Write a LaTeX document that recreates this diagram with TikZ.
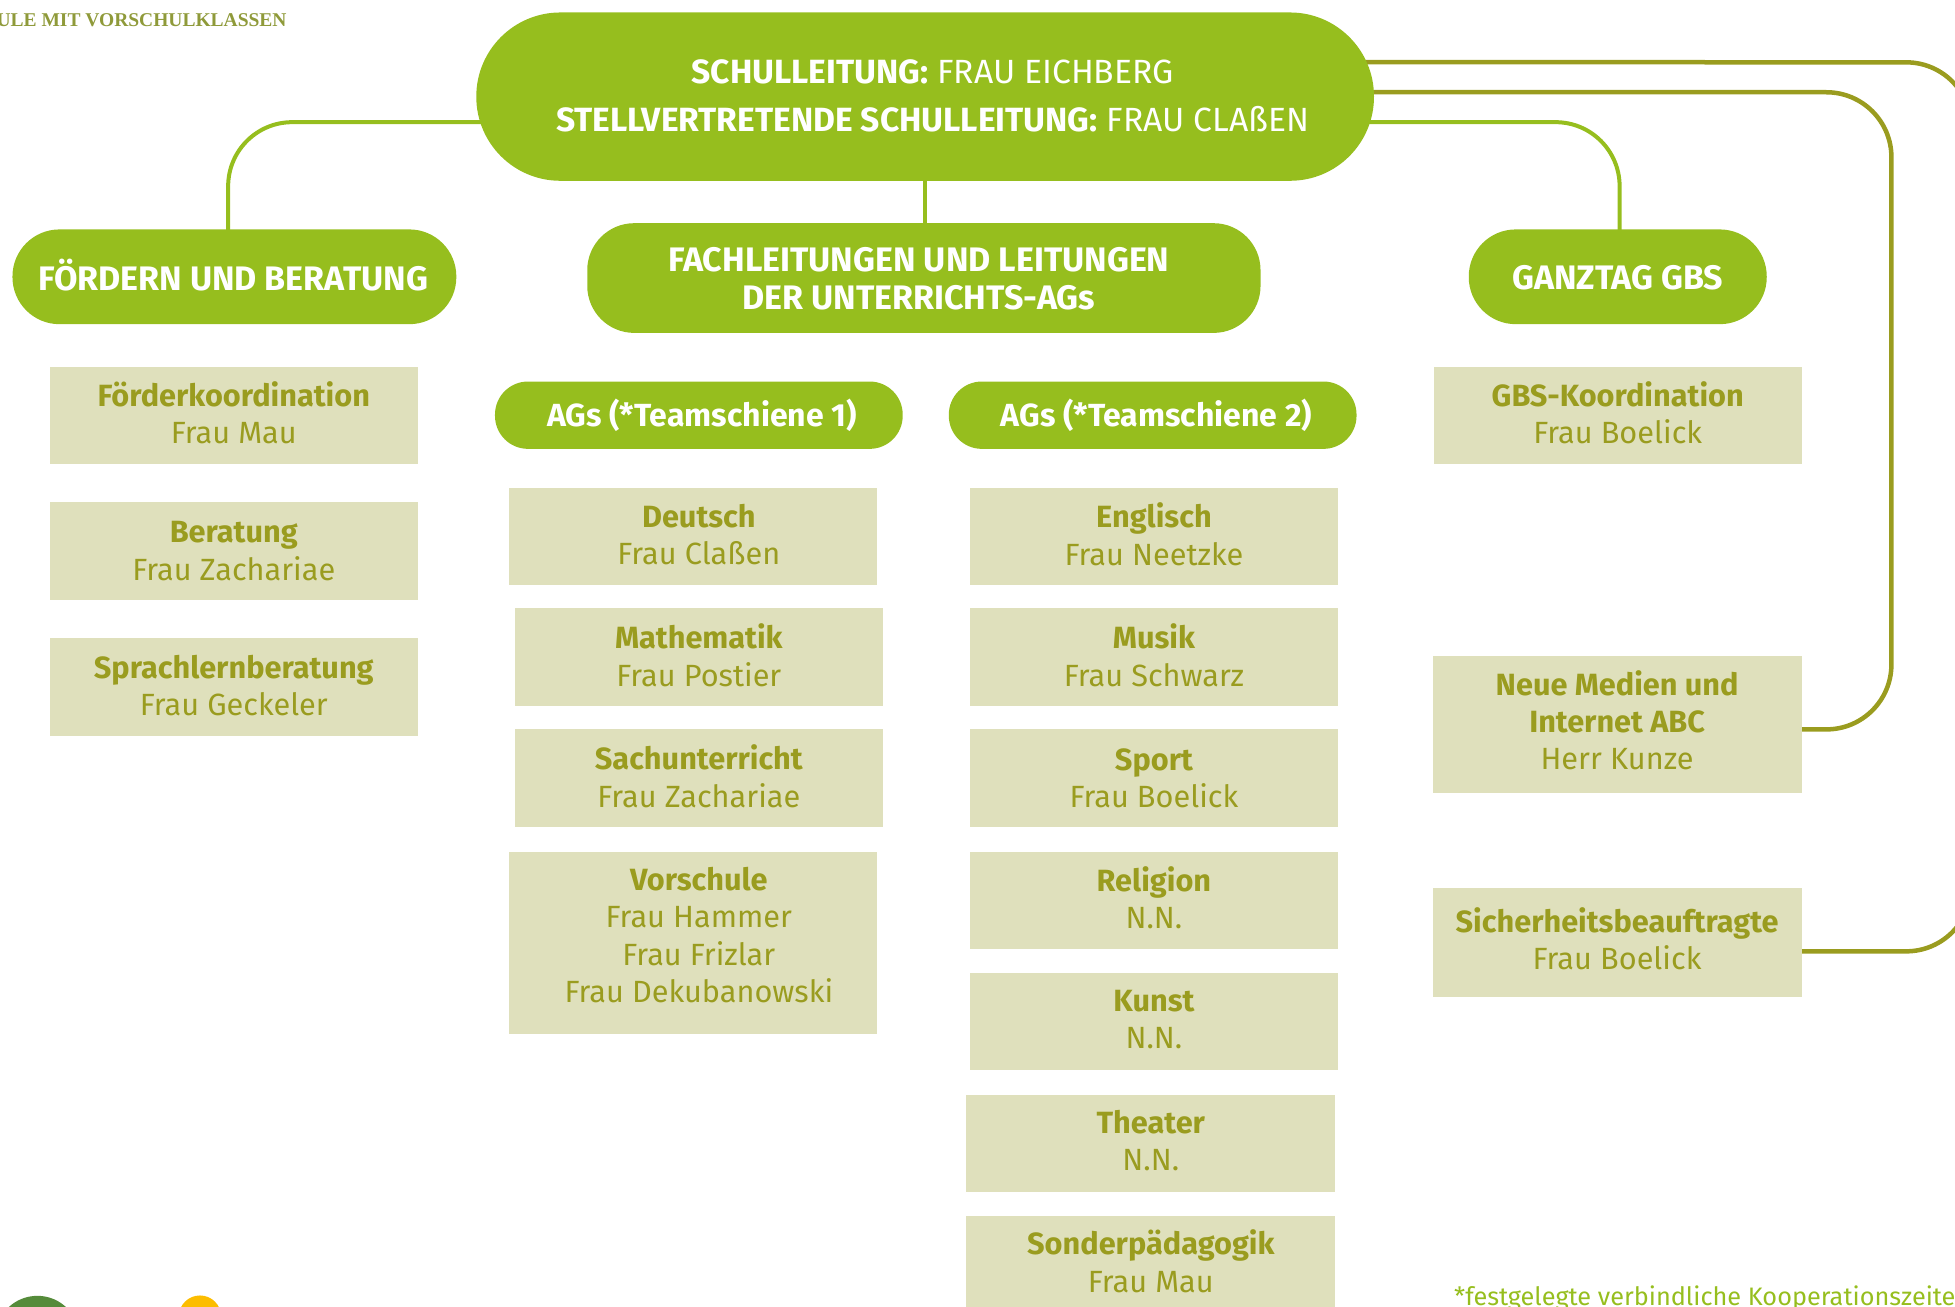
\documentclass[tikz,border=0pt]{standalone}
\usepackage{fontspec}
\setmainfont{Fira Sans}
\newfontfamily\logofont{Liberation Serif}
\usetikzlibrary{backgrounds}
\definecolor{gr}{HTML}{96BE1E}
\definecolor{ol}{HTML}{9A9C1F}
\definecolor{bx}{HTML}{DFE0BC}
\definecolor{logoc}{HTML}{8F9A3A}
\definecolor{dkg}{HTML}{558B3A}
\definecolor{yel}{HTML}{FCBD00}
\newcommand\placebox[9]{%
 \pgfmathsetmacro\bcx{(#3+#5)/2}\pgfmathsetmacro\bcy{(#4+#6)/2}%
 \pgfmathsetmacro\bw{(#5-#3)*1.2468}\pgfmathsetmacro\bh{(#6-#4)*1.2468}%
 \node[#1,minimum width=\bw pt,minimum height=\bh pt] (#2) at (\bcx,\bcy) {};
 \node[#1,fill=none] (#2t) at ([shift={(#7,#8)}]#2.center) {#9};}
\newcommand\tb[2]{{\bfseries #1}\\#2}
\tikzset{
 x=1.2468pt,y=-1.2468pt,
 pillbase/.style={fill=gr,text=white,rounded corners=47pt,align=center,inner sep=0pt,font=\fontsize{34}{37.5}\selectfont\bfseries},
 mainpill/.style={pillbase,rounded corners=84pt,font=\fontsize{33.6}{48}\selectfont},
 smallpill/.style={pillbase,rounded corners=33pt,font=\fontsize{32}{37.5}\selectfont\bfseries},
 infobox/.style={fill=bx,text=ol,align=center,inner sep=0pt,font=\fontsize{30.7}{37.2}\selectfont},
 greenlink/.style={draw=gr,line width=4pt,rounded corners=64pt},
 olivelink/.style={draw=ol,line width=4.5pt,rounded corners=65pt},
}
\begin{document}
\begin{tikzpicture}
\useasboundingbox (0,0) rectangle (1568,1048.25);
\clip (0,0) rectangle (1568,1048.25);
\placebox{mainpill}{main}{382}{10}{1102}{145}{6}{-1}{\textbf{SCHULLEITUNG:} FRAU EICHBERG\\\textbf{STELLVERTRETENDE SCHULLEITUNG:} FRAU CLAßEN}
\placebox{pillbase}{foerder}{10}{184}{366}{260}{-1}{-1}{FÖRDERN UND BERATUNG}
\placebox{pillbase}{fach}{471}{179}{1011}{267}{-4}{0.5}{FACHLEITUNGEN UND LEITUNGEN\\DER UNTERRICHTS-AGs}
\placebox{pillbase}{ganztag}{1178}{184}{1417}{260}{0}{1}{GANZTAG GBS}
\placebox{smallpill}{agone}{397}{306}{724}{360}{2.5}{0}{AGs (*Teamschiene 1)}
\placebox{smallpill}{agtwo}{761}{306}{1088}{360}{3}{0}{AGs (*Teamschiene 2)}
\placebox{infobox}{fk}{40}{294}{335}{372}{0}{-2}{\tb{Förderkoordination}{Frau Mau}}
\placebox{infobox}{ber}{40}{403}{335}{481}{0}{0}{\tb{Beratung}{Frau Zachariae}}
\placebox{infobox}{spr}{40}{512}{335}{590}{0}{-1}{\tb{Sprachlernberatung}{Frau Geckeler}}
\placebox{infobox}{deu}{408}{391}{703}{469}{5}{-1}{\tb{Deutsch}{Frau Claßen}}
\placebox{infobox}{mat}{413}{488}{708}{566}{0}{-1.5}{\tb{Mathematik}{Frau Postier}}
\placebox{infobox}{sach}{413}{585}{708}{663}{0}{-1.5}{\tb{Sachunterricht}{Frau Zachariae}}
\placebox{infobox}{vor}{408}{683}{703}{829}{5}{-6}{\tb{Vorschule}{Frau Hammer\\Frau Frizlar\\Frau Dekubanowski}}
\placebox{infobox}{eng}{778}{391}{1073}{469}{0}{-1.5}{\tb{Englisch}{Frau Neetzke}}
\placebox{infobox}{mus}{778}{488}{1073}{566}{0}{-1.5}{\tb{Musik}{Frau Schwarz}}
\placebox{infobox}{spo}{778}{585}{1073}{663}{0}{0}{\tb{Sport}{Frau Boelick}}
\placebox{infobox}{rel}{778}{683}{1073}{761}{0}{-2}{\tb{Religion}{N.N.}}
\placebox{infobox}{kun}{778}{780}{1073}{858}{0}{-1}{\tb{Kunst}{N.N.}}
\placebox{infobox}{the}{775}{878}{1071}{956}{0}{-2}{\tb{Theater}{N.N.}}
\placebox{infobox}{son}{775}{975}{1071}{1053}{0}{-2.5}{\tb{Sonderpädagogik}{Frau Mau}}
\placebox{infobox}{gbsk}{1150}{294}{1445}{372}{0}{-2}{\tb{GBS-Koordination}{Frau Boelick}}
\placebox{infobox}{neue}{1149}{526}{1445}{636}{0}{-3.5}{{\bfseries Neue Medien und}\\{\bfseries Internet ABC}\\Herr Kunze}
\placebox{infobox}{sich}{1149}{712}{1445}{800}{0}{-3}{\tb{Sicherheitsbeauftragte}{Frau Boelick}}
\node[anchor=base west,inner sep=0pt,text=gr,font=\fontsize{25.3}{28}\selectfont] (note) at (1166,1047) {*festgelegte verbindliche Kooperationszeiten};
\node[anchor=base east,inner sep=0pt,text=logoc,font=\logofont\fontsize{19.5}{22}\selectfont\bfseries] (logo) at (230,21) {SCHULE MIT VORSCHULKLASSEN};
\fill[dkg] (30,1073) circle (33.7);
\fill[yel] (160.4,1056) circle (17);
\begin{scope}[on background layer]
\draw[greenlink] ([xshift=30pt,yshift=-25.5pt]main.west) -- (183,98) -- (183,200);
\draw[greenlink] ([xshift=-30pt,yshift=-25.5pt]main.east) -- (1299,98) -- (1299,200);
\draw[draw=gr,line width=4pt] (main) -- (main |- fach.north);
\draw[olivelink] ([xshift=-30pt,yshift=34.5pt]main.east) -- (1581,50) -- (1581,763) -- (sich.east |- 0,763);
\draw[olivelink] ([xshift=-30pt,yshift=4.5pt]main.east) -- (1517,74) -- (1517,585) -- (neue.east |- 0,585);
\end{scope}
\end{tikzpicture}
\end{document}
